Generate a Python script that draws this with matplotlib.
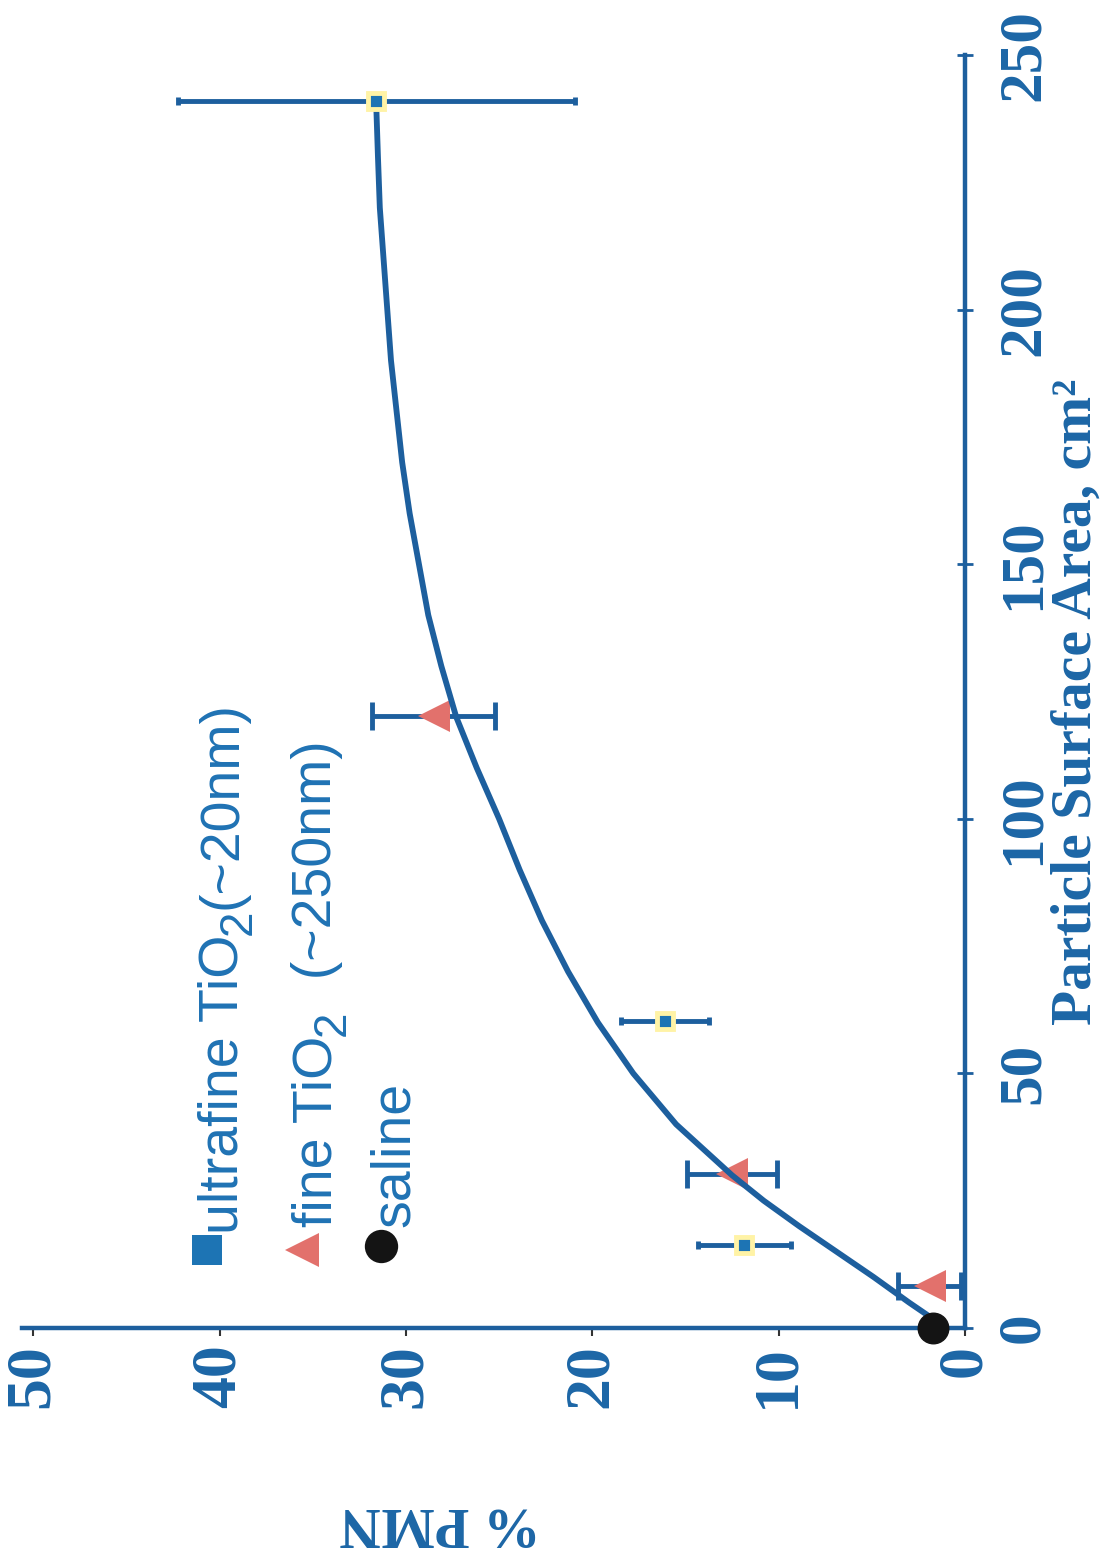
import matplotlib
matplotlib.use("Agg")
import matplotlib.pyplot as plt
from matplotlib.lines import Line2D

# ---- data -------------------------------------------------------------
# ultrafine TiO2 (~20 nm)
uf_area = [16.3, 60.2, 241.0]
uf_pmn = [11.85, 16.1, 31.6]
uf_err = [2.5, 2.35, 10.65]

# fine TiO2 (~250 nm)
fine_area = [8.2, 30.2, 120.2]
fine_pmn = [1.9, 12.5, 28.5]
fine_err = [1.7, 2.4, 3.3]

# saline control
sal_area = [0.0]
sal_pmn = [1.7]

# fitted dose-response curve (surface area, %PMN)
fit_area = [1.0, 5, 10, 15, 20, 25, 30, 40, 50, 60, 70, 80, 90, 100,
            110, 120, 130, 140, 150, 160, 170, 180, 190, 200, 210, 220,
            230, 241]
fit_pmn = [1.4, 3.0, 4.9, 6.9, 8.9, 10.8, 12.5, 15.5, 17.8, 19.7, 21.3,
           22.7, 23.9, 25.0, 26.2, 27.3, 28.1, 28.8, 29.3, 29.8, 30.2,
           30.5, 30.8, 31.0, 31.2, 31.4, 31.5, 31.6]

pmn_ticks = [0, 10, 20, 30, 40, 50]
area_ticks = [0, 50, 100, 150, 200, 250]

# ---- styling ----------------------------------------------------------
W, H = 1103, 1564
BLUE = "#1d5f9e"
TEXT_BLUE = "#1c66a6"
LEG_BLUE = "#1f72b4"
SALMON = "#e2716c"
SQUARE = "#1d74b4"
HALO = "#fff3a6"
SERIF = "Liberation Serif"
SANS = "Liberation Sans"

fig = plt.figure(figsize=(W / 100, H / 100), dpi=100)
fig.patch.set_facecolor("white")

# the plot is laid out turned a quarter turn: %PMN runs right-to-left
# along the bottom, surface area runs upward along the right side
ax = fig.add_axes([22 / W, 1 - 1328 / H, (965 - 22) / W, (1328 - 55) / H])
ax.set_facecolor("none")
ax.set_xlim(50.6, 0)
ax.set_ylim(0, 250)

for side in ("top", "left"):
    ax.spines[side].set_visible(False)
for side in ("bottom", "right"):
    ax.spines[side].set_color(BLUE)
    ax.spines[side].set_linewidth(3.2)

ax.yaxis.tick_right()
ax.set_xticks(pmn_ticks)
ax.set_xticklabels([str(t) for t in pmn_ticks], rotation=90,
                   fontfamily=SERIF, fontweight="bold", fontsize=46,
                   color=TEXT_BLUE)
ax.set_yticks(area_ticks)
ax.set_yticklabels([str(t) for t in area_ticks], rotation=90,
                   fontfamily=SERIF, fontweight="bold", fontsize=44,
                   color=TEXT_BLUE, va="center")
ax.tick_params(axis="x", direction="out", length=6, width=1.5,
               colors="#333333", pad=6)
ax.tick_params(axis="x", labelcolor=TEXT_BLUE)
ax.tick_params(axis="y", direction="inout", length=12, width=2,
               colors=BLUE, pad=16)
ax.tick_params(axis="y", labelcolor=TEXT_BLUE)

# error bars and markers
ax.errorbar(fine_pmn, fine_area, xerr=fine_err, fmt="none",
            ecolor=BLUE, elinewidth=3.5, capsize=10, capthick=3.5,
            zorder=2, clip_on=False)
ax.plot(fine_pmn, fine_area, linestyle="none", marker="<",
        markersize=23, color=SALMON, markeredgewidth=0, zorder=2.5,
        clip_on=False)

ax.plot(fit_pmn, fit_area, color=BLUE, linewidth=4.2,
        solid_capstyle="round", solid_joinstyle="round", zorder=3)

ax.errorbar(uf_pmn, uf_area, xerr=uf_err, fmt="none",
            ecolor=BLUE, elinewidth=3.5, capsize=3, capthick=3.5,
            zorder=3.5, clip_on=False)
ax.plot(uf_pmn, uf_area, linestyle="none", marker="s", markersize=11,
        markerfacecolor=SQUARE, markeredgecolor=HALO,
        markeredgewidth=3.5, zorder=4, clip_on=False)

ax.plot(sal_pmn, sal_area, linestyle="none", marker="o", markersize=22,
        color="#141414", zorder=5, clip_on=False)

# axis titles
fig.text(1077 / W, 1 - 702 / H, "Particle Surface Area, cm\u00b2",
         rotation=90, ha="center", va="center", fontfamily=SERIF,
         fontweight="bold", fontsize=41.5, color=TEXT_BLUE)
fig.text(440 / W, 1 - 1522 / H, "% PMN", rotation=180, ha="center",
         va="center", fontfamily=SERIF, fontweight="bold", fontsize=41,
         color=TEXT_BLUE)

# legend, written sideways like the rest of the figure
renderer = fig.canvas.get_renderer()


def sideways(x_base, y_start, pieces):
    """Write text pieces upward from y_start, baseline at x_base (pixels)."""
    y = y_start
    for txt, size, dx in pieces:
        t = fig.text((x_base + dx) / W, 1 - y / H, txt, rotation=90,
                     rotation_mode="anchor", ha="left", va="baseline",
                     fontfamily=SANS, fontsize=size, color=LEG_BLUE)
        bb = t.get_window_extent(renderer)
        y = H - bb.y1


legend_rows = [
    ("s", SQUARE, 21, 207, 1250, 237, 1234,
     [("ultrafine TiO", 40, 0), ("2", 33, 14), ("(~20nm)", 40, 0)]),
    ("<", SALMON, 25, 302, 1250, 331, 1227,
     [("fine TiO", 40, 0), ("2", 33, 14), ("  (~250nm)", 40, 0)]),
    ("o", "#141414", 24, 381, 1246, 409, 1227,
     [("saline", 40, 0)]),
]
for mk, col, ms, px, py, xb, ys, pieces in legend_rows:
    fig.add_artist(Line2D([px / W], [1 - py / H], marker=mk,
                          markersize=ms, color=col, linestyle="none",
                          markeredgewidth=0, transform=fig.transFigure))
    sideways(xb, ys, pieces)

fig.savefig("out.png", dpi=100, facecolor="white")
